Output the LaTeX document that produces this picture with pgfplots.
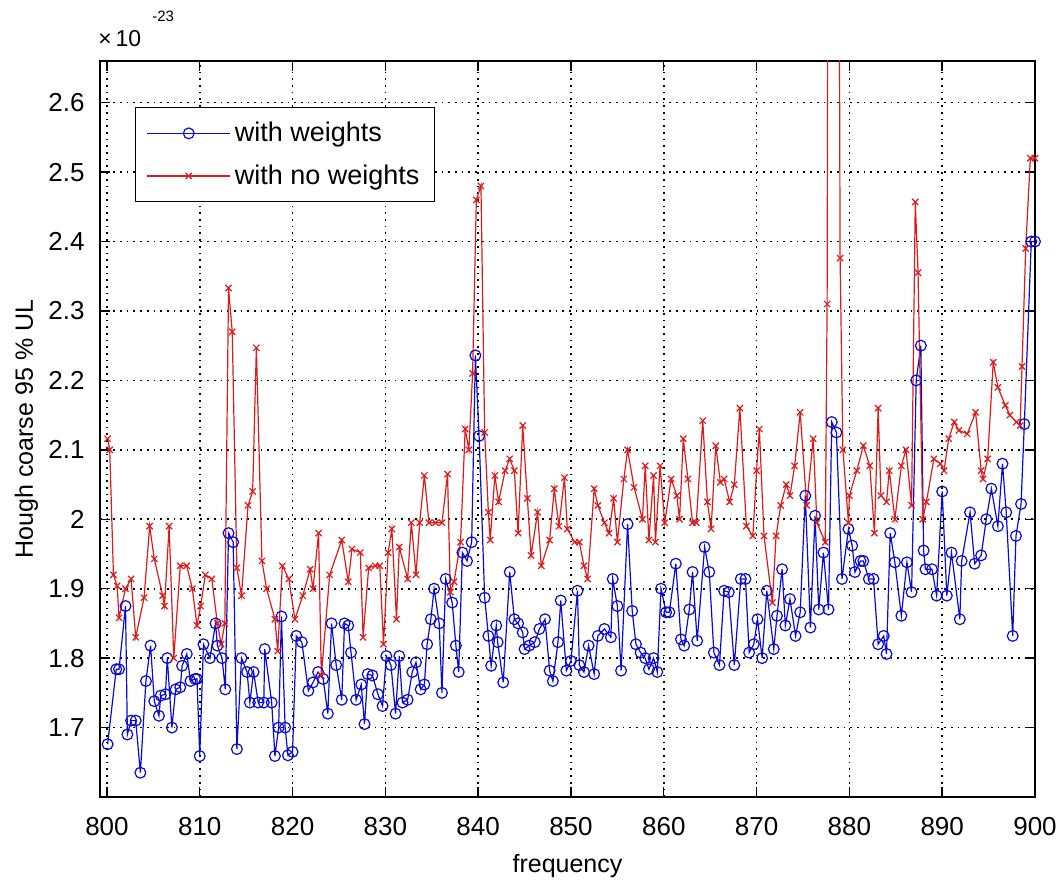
\documentclass[border=0pt]{standalone}
\usepackage{fontspec}
\setmainfont{Liberation Sans}
\usepackage{pgfplots}
\pgfplotsset{compat=1.18}
\definecolor{mblue}{RGB}{10,10,210}
\definecolor{mred}{RGB}{220,28,28}
\begin{document}
\begin{tikzpicture}
\useasboundingbox (-50pt,-42.5pt) rectangle (478.5pt,398.5pt);
\begin{axis}[
  at={(0,0)}, anchor=south west,
  scale only axis, width=467.5pt, height=368pt,
  xmin=799.25, xmax=900, ymin=1.6, ymax=2.66,
  xtick={800,810,820,830,840,850,860,870,880,890,900},
  ytick={1.7,1.8,1.9,2.0,2.1,2.2,2.3,2.4,2.5,2.6},
  xmajorgrids=true, ymajorgrids=true,
  grid style={black, line width=0.85pt, dash pattern=on 0.85pt off 2.5pt},
  major grid style={black, line width=0.85pt, dash pattern=on 0.85pt off 2.5pt},
  tick align=inside, major tick length=5pt,
  tick style={black, line width=0.7pt},
  axis line style={black, line width=0.8pt},
  /pgf/number format/assume math mode=true,
  ticklabel style={font=\fontsize{13}{15}\selectfont},
  xticklabel style={anchor=base, yshift=-19.5pt},
  yticklabel style={inner xsep=0pt, xshift=-7.5pt},
  xlabel={frequency},
  ylabel={Hough coarse 95 \% UL},
  xlabel style={font=\fontsize{12.5}{14}\selectfont, at={(axis description cs:0.5,-0.102)}, anchor=base},
  ylabel style={font=\fontsize{12.5}{14}\selectfont, at={(axis description cs:-0.0717,0.5)}, anchor=base},
  legend style={at={(axis description cs:0.0374,0.9375)}, anchor=north west,
    font=\fontsize{13.5}{16}\selectfont, draw=black, line width=0.7pt,
    inner xsep=5.5pt, inner ysep=5.2pt, row sep=6pt},
  legend cell align=left,
  legend image code/.code={\draw[mark repeat=2,mark phase=2,#1] plot coordinates {(0pt,0pt) (20.75pt,0pt) (41.5pt,0pt)};},
]
\addplot[color=mblue, line width=0.6pt, mark=o, mark size=2.7pt, mark options={line width=0.6pt}] coordinates {
(800.07,1.676) (801.0,1.784) (801.3,1.784) (802.0,1.875) (802.2,1.69) (802.6,1.71) (803.1,1.71) (803.6,1.635)
(804.2,1.767) (804.7,1.818) (805.1,1.738) (805.6,1.717) (805.8,1.746) (806.3,1.748) (806.5,1.80) (807.0,1.70)
(807.4,1.755) (807.9,1.758) (808.1,1.789) (808.6,1.806) (809.0,1.767) (809.5,1.77) (809.7,1.77) (810.0,1.659)
(810.4,1.82) (811.1,1.80) (811.7,1.85) (811.9,1.818) (812.4,1.80) (812.75,1.755) (813.1,1.98) (813.6,1.967)
(814.0,1.669) (814.5,1.80) (815.1,1.78) (815.4,1.736) (815.8,1.78) (816.3,1.736) (816.9,1.736) (817.0,1.813)
(817.75,1.736) (818.1,1.659) (818.5,1.70) (818.8,1.86) (819.2,1.70) (819.5,1.66) (820.0,1.665) (820.4,1.832)
(821.0,1.823) (821.7,1.753) (822.2,1.765) (822.75,1.78) (823.3,1.77) (823.8,1.72) (824.2,1.85) (824.7,1.79)
(825.3,1.74) (825.6,1.85) (826.0,1.847) (826.3,1.808) (826.85,1.74) (827.4,1.762) (827.75,1.705) (828.1,1.777)
(828.6,1.775) (829.2,1.748) (829.7,1.731) (830.1,1.803) (830.6,1.79) (831.1,1.72) (831.5,1.803) (831.85,1.736)
(832.4,1.74) (832.9,1.78) (833.3,1.794) (833.8,1.755) (834.2,1.762) (834.5,1.82) (834.9,1.856) (835.25,1.90)
(835.8,1.85) (836.1,1.75) (836.5,1.914) (837.2,1.88) (837.6,1.818) (837.9,1.78) (838.3,1.952) (838.8,1.94)
(839.3,1.967) (839.7,2.236) (840.1,2.12) (840.7,1.887) (841.1,1.832) (841.4,1.789) (841.95,1.847) (842.1,1.823)
(842.7,1.765) (843.4,1.924) (843.9,1.856) (844.3,1.85) (844.8,1.837) (845.0,1.813) (845.5,1.818) (846.1,1.823)
(846.6,1.842) (847.2,1.856) (847.7,1.782) (848.05,1.767) (848.6,1.823) (848.9,1.883) (849.5,1.782) (850.0,1.796)
(850.7,1.897) (850.9,1.79) (851.4,1.78) (851.9,1.818) (852.5,1.777) (852.9,1.832) (853.6,1.842) (854.3,1.83)
(854.5,1.914) (855.0,1.875) (855.4,1.782) (856.1,1.993) (856.6,1.868) (857.0,1.82) (857.5,1.808) (858.0,1.80)
(858.4,1.784) (858.9,1.80) (859.3,1.78) (859.7,1.90) (860.25,1.866) (860.6,1.866) (861.3,1.936) (861.85,1.827)
(862.2,1.818) (862.75,1.87) (863.1,1.924) (863.6,1.825) (864.4,1.96) (864.9,1.924) (865.4,1.808) (866.0,1.79)
(866.5,1.897) (867.0,1.895) (867.6,1.79) (868.3,1.914) (868.8,1.914) (869.2,1.808) (869.7,1.82) (870.1,1.856)
(870.6,1.80) (871.1,1.897) (871.85,1.813) (872.2,1.861) (872.75,1.928) (873.1,1.847) (873.6,1.885) (874.2,1.832)
(874.7,1.866) (875.25,2.034) (875.8,1.844) (876.3,2.005) (876.7,1.87) (877.2,1.952) (877.75,1.87) (878.1,2.14)
(878.6,2.125) (879.2,1.914) (879.9,1.986) (880.3,1.962) (880.6,1.924) (881.2,1.94) (881.5,1.94) (882.1,1.914)
(882.6,1.914) (883.1,1.82) (883.7,1.832) (884.0,1.806) (884.4,1.98) (884.9,1.938) (885.6,1.861) (886.2,1.938)
(886.7,1.895) (887.2,2.20) (887.7,2.25) (888.0,1.955) (888.2,1.928) (888.9,1.928) (889.4,1.89) (890.0,2.04)
(890.5,1.89) (891.0,1.952) (891.9,1.856) (892.1,1.94) (893.0,2.01) (893.5,1.936) (894.2,1.948) (894.75,2.0)
(895.3,2.044) (896.0,1.99) (896.5,2.08) (896.9,2.01) (897.6,1.832) (897.95,1.976) (898.5,2.022) (898.85,2.137)
(899.6,2.40) (900.0,2.40)
};
\addlegendentry{with weights}
\addplot[color=mred, line width=0.6pt, mark=x, mark size=2.2pt, mark options={line width=0.6pt}] coordinates {
(800.07,2.116) (800.3,2.10) (800.7,1.92) (801.1,1.904) (801.3,1.858) (802.0,1.90) (802.6,1.914) (803.1,1.83)
(804.0,1.887) (804.6,1.99) (805.1,1.943) (806.0,1.89) (806.2,1.875) (806.7,1.99) (807.2,1.80) (807.9,1.933)
(808.6,1.933) (809.2,1.90) (809.7,1.847) (810.1,1.875) (810.6,1.92) (811.3,1.914) (811.9,1.85) (812.3,1.82)
(812.7,1.85) (813.1,2.333) (813.5,2.27) (814.0,1.93) (814.5,1.89) (815.2,2.02) (815.7,2.04) (816.1,2.247)
(816.7,1.94) (817.2,1.90) (818.1,1.856) (818.4,1.81) (818.9,1.933) (819.6,1.914) (820.25,1.856) (821.1,1.89)
(821.9,1.928) (822.2,1.90) (822.8,1.98) (823.1,1.775) (824.0,1.92) (825.3,1.97) (826.0,1.91) (826.4,1.957)
(827.3,1.952) (827.6,1.83) (828.2,1.93) (828.9,1.933) (829.4,1.933) (829.8,1.82) (830.3,1.952) (830.7,1.986)
(831.2,1.856) (831.5,1.96) (832.4,1.914) (832.8,1.995) (833.3,1.92) (833.7,1.995) (834.2,2.063) (834.7,1.995)
(835.4,1.995) (836.1,1.995) (836.7,2.065) (837.0,1.895) (837.4,1.91) (838.1,1.967) (838.6,2.13) (839.0,2.10)
(839.4,2.21) (839.8,2.46) (840.3,2.48) (840.7,2.125) (841.1,2.01) (841.3,1.97) (841.8,2.063) (842.2,2.025)
(842.9,2.07) (843.4,2.087) (843.9,2.07) (844.3,1.98) (844.8,2.135) (845.3,2.03) (845.7,1.948) (846.4,2.01)
(846.8,1.933) (847.7,1.97) (848.2,2.044) (848.7,1.99) (849.3,2.06) (849.6,1.986) (850.4,1.967) (850.9,1.967)
(851.4,1.933) (851.8,1.914) (852.5,2.044) (852.9,2.02) (853.6,1.995) (854.1,1.98) (854.6,2.03) (855.0,1.967)
(855.7,2.058) (856.1,2.10) (856.8,2.046) (857.7,2.0) (858.0,2.077) (858.4,1.97) (858.9,2.063) (859.1,1.967)
(859.6,2.077) (860.1,1.995) (860.8,2.058) (861.4,2.034) (861.7,2.0) (862.1,2.116) (862.6,2.058) (863.1,1.995)
(863.5,1.995) (864.2,2.142) (864.7,2.025) (865.1,1.986) (865.6,2.106) (866.1,2.053) (866.5,2.058) (867.1,2.025)
(867.6,2.05) (868.2,2.16) (868.9,1.99) (869.6,1.976) (870.0,2.07) (870.3,2.13) (870.8,1.976) (871.7,1.88)
(872.1,1.976) (872.6,2.02) (873.2,2.05) (873.6,2.034) (874.1,2.077) (874.7,2.154) (875.4,2.02) (876.1,2.116)
(876.5,1.995) (877.4,1.967) (877.6,2.31) (878.2,6.0) (879.0,2.376) (879.3,2.10) (879.9,1.995) (880.0,2.034)
(880.8,2.07) (881.5,2.106) (882.2,2.077) (882.7,1.98) (883.1,2.16) (883.4,2.034) (884.0,2.025) (884.3,2.07)
(884.9,2.0) (885.6,2.077) (886.1,2.10) (886.7,2.02) (887.1,2.457) (887.4,2.355) (887.9,2.0) (888.3,2.025)
(889.1,2.087) (889.8,2.08) (890.2,2.07) (890.7,2.116) (891.3,2.14) (891.8,2.128) (892.7,2.123) (893.6,2.154)
(894.2,2.07) (894.4,2.058) (894.9,2.087) (895.5,2.226) (896.0,2.19) (896.8,2.164) (897.3,2.15) (898.0,2.14)
(898.4,2.135) (898.6,2.22) (899.0,2.39) (899.5,2.52) (900.0,2.52)
};
\addlegendentry{with no weights}
\end{axis}
\node[anchor=base west, inner sep=0pt, font=\fontsize{11.5}{12}\selectfont] at (-1pt,375pt) {×\,10};
\node[anchor=base west, inner sep=0pt, font=\fontsize{7.5}{8}\selectfont] at (26pt,387.5pt) {-23};
\end{tikzpicture}
\end{document}
